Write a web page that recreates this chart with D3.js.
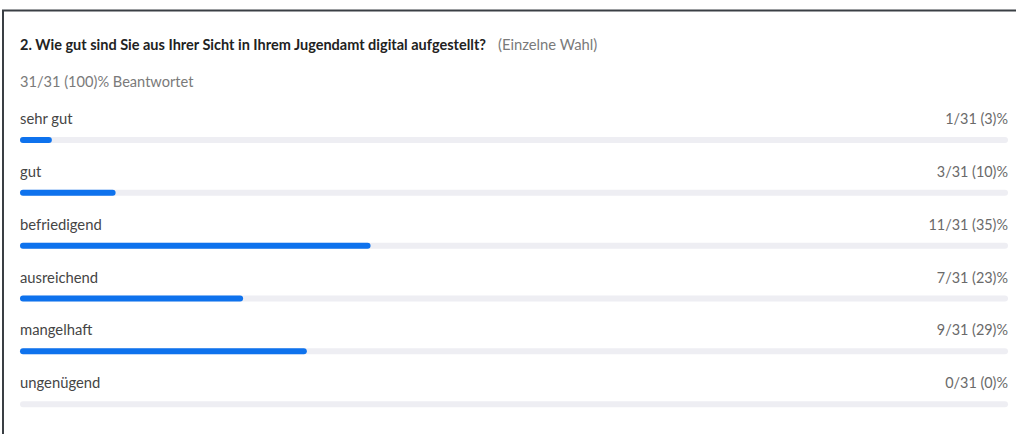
<!DOCTYPE html>
<html>
<head>
<meta charset="utf-8">
<script src="https://cdn.jsdelivr.net/npm/d3@7"></script>
<style>
  body { margin: 0; background: #fff; }
  text { font-family: Lato, "Open Sans", sans-serif; }
</style>
</head>
<body>
<div id="chart-area"></div>
<script>
// answer options and counts
var categories = ["sehr gut", "gut", "befriedigend", "ausreichend", "mangelhaft", "ungenügend"];
var counts = [1, 3, 11, 7, 9, 0];
var percents = [3, 10, 35, 23, 29, 0];
var total = 31;

var width = 1016;
var height = 434;

var svg = d3.select("#chart-area")
    .append("svg")
    .attr("width", width)
    .attr("height", height);

// frame: only top and left edges are visible
svg.append("line")
    .attr("x1", 2).attr("x2", width)
    .attr("y1", 10.5).attr("y2", 10.5)
    .attr("stroke", "#3a3f44").attr("stroke-width", 2);
svg.append("line")
    .attr("x1", 3).attr("x2", 3)
    .attr("y1", 10).attr("y2", height)
    .attr("stroke", "#3a3f44").attr("stroke-width", 2);

var title = svg.append("text")
    .attr("x", 20)
    .attr("y", 50)
    .attr("font-size", 14.5)
    .attr("fill", "#222");
title.append("tspan")
    .attr("font-weight", "bold")
    .text("2. Wie gut sind Sie aus Ihrer Sicht in Ihrem Jugendamt digital aufgestellt?");
title.append("tspan")
    .attr("dx", 12)
    .attr("font-size", 14.8)
    .attr("fill", "#7a7a7a")
    .text("(Einzelne Wahl)");

svg.append("text")
    .attr("x", 20)
    .attr("y", 87)
    .attr("font-size", 14.6)
    .attr("fill", "#7a7a7a")
    .text(total + "/" + total + " (100)% Beantwortet");

var x = d3.scaleLinear()
    .domain([0, total])
    .range([20, 1008]);

var y = d3.scaleBand()
    .domain(categories)
    .range([105, 422]);

var rows = svg.selectAll("g.row")
    .data(categories)
    .enter()
    .append("g")
    .attr("class", "row")
    .attr("transform", function(d) {
        return "translate(0," + y(d) + ")";
    });

rows.append("text")
    .attr("x", 20)
    .attr("y", 19)
    .attr("font-size", 14.8)
    .attr("fill", "#454545")
    .text(function(d) { return d; });

rows.append("text")
    .attr("x", 1008)
    .attr("y", 19)
    .attr("text-anchor", "end")
    .attr("font-size", 14.4)
    .attr("fill", "#6a6a6a")
    .text(function(d, i) {
        return counts[i] + "/" + total + " (" + percents[i] + ")%";
    });

rows.append("rect")
    .attr("x", x(0))
    .attr("y", 32)
    .attr("width", x(total) - x(0))
    .attr("height", 6)
    .attr("rx", 3)
    .attr("fill", "#eeeef3");

rows.append("rect")
    .attr("x", x(0))
    .attr("y", 32)
    .attr("width", function(d, i) { return x(counts[i]) - x(0); })
    .attr("height", 6)
    .attr("rx", 3)
    .attr("fill", "#0e72ed");
</script>
</body>
</html>
